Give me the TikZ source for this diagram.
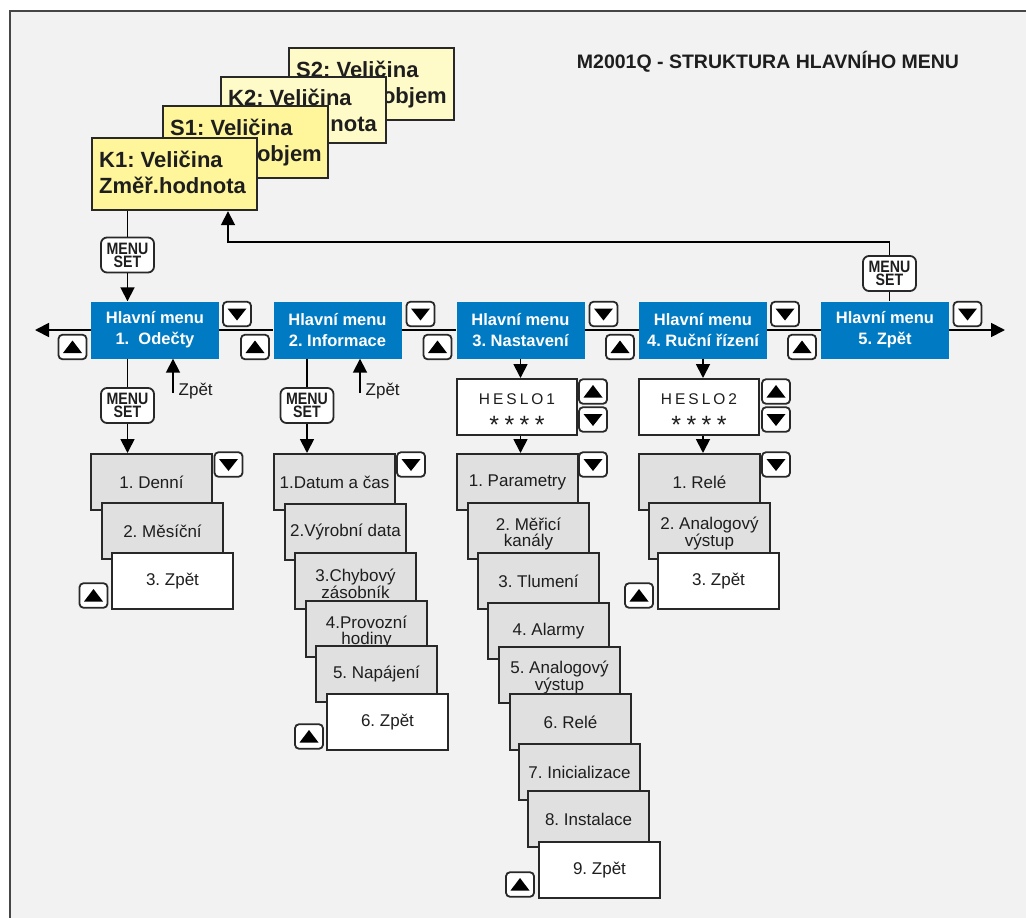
\documentclass[tikz,border=0pt]{standalone}
\usepackage{fontspec}
\setmainfont{Liberation Sans}
\newfontfamily\condfont[FakeStretch=0.86]{Liberation Sans}
\usetikzlibrary{arrows.meta}
\definecolor{bg}{RGB}{242,242,242}
\definecolor{frm}{RGB}{70,70,70}
\definecolor{blu}{RGB}{0,122,194}
\definecolor{subg}{RGB}{224,224,224}
\definecolor{yel}{RGB}{255,245,155}
\definecolor{yelb}{RGB}{255,251,200}
\definecolor{edge}{RGB}{40,40,40}
\definecolor{ink}{RGB}{30,30,30}
\frenchspacing
\newcommand\dnbtn[2]{\node[btn] (#1) at (#2) {};
  \fill[black] ([xshift=-9.5pt,yshift=5.5pt]#1.center) -- ([xshift=9.5pt,yshift=5.5pt]#1.center) -- ([yshift=-6.5pt]#1.center) -- cycle;}
\newcommand\upbtn[2]{\node[btn] (#1) at (#2) {};
  \fill[black] ([xshift=-9.5pt,yshift=-6pt]#1.center) -- ([xshift=9.5pt,yshift=-6pt]#1.center) -- ([yshift=6.5pt]#1.center) -- cycle;}
\newcommand\tp{\rule{0pt}{18pt}}
\begin{document}
\begin{tikzpicture}[x=1pt,y=-1pt,
 conn/.style={line width=1.8pt, draw=black},
 arr/.style={conn, -{Triangle[length=14pt,width=14pt]}},
 card/.style={draw=edge, line width=2.2pt, anchor=north west, minimum width=165pt, minimum height=72pt, inner sep=0pt},
 cardtext/.style={inner sep=0pt, text=ink, font=\bfseries\fontsize{22}{26}\selectfont},
 mainbox/.style={fill=blu, text=white, minimum width=128pt, minimum height=57pt, inner sep=0pt, align=center, font=\bfseries\fontsize{16.5}{21}\selectfont},
 sub/.style={draw=edge, line width=2pt, fill=subg, anchor=north west, minimum width=121pt, minimum height=56pt, inner sep=1pt, align=center, text=ink, font=\fontsize{17}{16}\selectfont},
 subw/.style={sub, fill=white},
 hes/.style={draw=edge, line width=2pt, fill=white, anchor=north west, minimum width=120pt, minimum height=56pt, inner sep=0pt},
 btn/.style={draw=edge, fill=white, line width=1.8pt, rounded corners=4pt, minimum width=28pt, minimum height=24.5pt, inner sep=0pt},
 ms/.style={draw=edge, fill=white, line width=1.8pt, rounded corners=6pt, minimum width=53pt, minimum height=35pt, inner sep=0pt, align=center, text=ink, font=\condfont\bfseries\fontsize{16.5}{13}\selectfont},
 lbl/.style={inner sep=0pt, text=ink, font=\fontsize{17}{20}\selectfont},
]
\useasboundingbox (0,0) rectangle (1026,918);
\fill[white] (0,0) rectangle (1026,918);
\begin{scope}
\clip (0,0) rectangle (1026,918);
\draw[draw=frm, line width=2.5pt, fill=bg] (10,11) rectangle (1040,930);
\end{scope}

% title
\node[inner sep=0pt, text=ink, font=\bfseries\fontsize{19.5}{20}\selectfont] (title) at (768,62) {M2001Q - STRUKTURA HLAVNÍHO MENU};

% stacked cards
\node[card, fill=yelb] (s2) at (288,47) {};
\node[cardtext, anchor=base west] (s2t) at (296,77) {S2: Veličina};
\node[cardtext, anchor=base east] (s2u) at (447,103) {objem};
\node[card, fill=yelb, minimum height=66pt] (k2) at (220,76) {};
\node[cardtext, anchor=base west] (k2t) at (228,105) {K2: Veličina};
\node[cardtext, anchor=base east] (k2u) at (377,131) {hodnota};
\node[card, fill=yel] (s1) at (162,105) {};
\node[cardtext, anchor=base west] (s1t) at (170,135) {S1: Veličina};
\node[cardtext, anchor=base east] (s1u) at (322,161) {objem};
\node[card, fill=yel] (k1) at (91,137) {};
\node[cardtext, anchor=north west, align=left] (k1t) at (99,151) {K1: Veličina\\Změř.hodnota};

% main menu boxes
\node[mainbox] (b1) at (155,330) {Hlavní menu\\1.\ \ Odečty};
\node[mainbox] (b2) at (337.5,330) {Hlavní menu\\2. Informace};
\node[mainbox] (b3) at (520.5,330) {Hlavní menu\\3. Nastavení};
\node[mainbox] (b4) at (703,330) {Hlavní menu\\4. Ruční řízení};
\node[mainbox] (b5) at (885,330) {Hlavní menu\\5. Zpět};

\coordinate (lend) at (35,330);
\coordinate (rend) at (1005,330);
\draw[arr] (b1.west) -- (lend);
\draw[conn] (b1.east) -- (b2.west);
\draw[conn] (b2.east) -- (b3.west);
\draw[conn] (b3.east) -- (b4.west);
\draw[conn] (b4.east) -- (b5.west);
\draw[arr] (b5.east) -- (rend);

\dnbtn{d1}{237,314}   \upbtn{u1}{72.5,347}
\dnbtn{d2}{420.5,314} \upbtn{u2}{255,347}
\dnbtn{d3}{603.5,314} \upbtn{u3}{437.5,347}
\dnbtn{d4}{785,314}   \upbtn{u4}{620,347}
\dnbtn{d5}{967.5,314} \upbtn{u5}{802,347}

% MENU SET top
\node[ms] (ms0) at (127.5,255) {MENU\\SET};
\draw[conn] (k1.south -| ms0) -- (ms0.north);
\draw[arr] (ms0.south) -- (ms0.south |- b1.north);

% return from 5. Zpet
\node[ms] (ms5) at (889.5,273.5) {MENU\\SET};
\coordinate (ret) at (228,242);
\draw[conn] (ms5.south) -- (ms5.south |- b5.north);
\draw[arr] (ms5.north) |- (ret) -- (ret |- k1.south);

% Zpet arrows
\coordinate (zb1) at (173,393);
\draw[arr] (zb1) -- (zb1 |- b1.south);
\node[lbl, anchor=base west] (zl1) at (178.5,395) {Zpět};
\coordinate (zb2) at (360,393);
\draw[arr] (zb2) -- (zb2 |- b2.south);
\node[lbl, anchor=base west] (zl2) at (365.5,395) {Zpět};

% column 1
\node[ms] (ms1) at (127.5,405.5) {MENU\\SET};
\draw[conn] (ms1.north |- b1.south) -- (ms1.north);
\node[sub] (c1a) at (90,453) {1. Denní};
\node[sub] (c1b) at (101,502) {2. Měsíční};
\node[subw] (c1c) at (111,552) {3. Zpět};
\draw[arr] (ms1.south) -- (ms1.south |- c1a.north);
\dnbtn{c1d}{228.5,464.5}
\upbtn{c1u}{93.5,595.5}

% column 2
\node[ms] (ms2) at (307,405.5) {MENU\\SET};
\draw[conn] (ms2.north |- b2.south) -- (ms2.north);
\node[sub] (c2a) at (273,453) {1.Datum a čas};
\node[sub] (c2b) at (284,503) {2.Výrobní data};
\node[sub] (c2c) at (294,552) {\tp3.Chybový\\zásobník};
\node[sub] (c2d) at (305,600) {\tp4.Provozní\\hodiny};
\node[sub] (c2e) at (315,645) {5. Napájení};
\node[subw] (c2f) at (326,693) {6. Zpět};
\draw[arr] (ms2.south) -- (ms2.south |- c2a.north);
\dnbtn{c2dn}{411,464.5}
\upbtn{c2up}{309,736.5}

% column 3
\node[hes] (h1) at (456,378) {};
\node[lbl, anchor=base, font=\fontsize{15.5}{18}\selectfont] (h1a) at ([yshift=3pt]h1.center) {H\kern3pt E\kern3pt S\kern3pt L\kern3pt O\kern3pt 1};
\node[lbl, anchor=base, font=\fontsize{25}{25}\selectfont] (h1b) at ([yshift=-26pt]h1.center) {*\kern5.5pt *\kern5.5pt *\kern5.5pt *};
\upbtn{h1u}{593,391.5}
\dnbtn{h1d}{593,419.5}
\draw[arr] (b3.south) -- (b3.south |- h1.north);
\node[sub] (c3a) at (456,453) {1. Parametry};
\node[sub] (c3b) at (467,502) {\tp2. Měřicí\\kanály};
\node[sub] (c3c) at (477,552) {3. Tlumení};
\node[sub] (c3d) at (487,602) {4. Alarmy};
\node[sub] (c3e) at (498,646) {\tp5. Analogový\\výstup};
\node[sub] (c3f) at (509,693) {6. Relé};
\node[sub] (c3g) at (518,743) {7. Inicializace};
\node[sub] (c3h) at (527,790) {8. Instalace};
\node[subw] (c3i) at (538,841) {9. Zpět};
\draw[arr] (h1.south -| b3.south) -- (c3a.north -| b3.south);
\dnbtn{c3dn}{593,464.5}
\upbtn{c3up}{520,884.5}

% column 4
\node[hes] (h2) at (638,378) {};
\node[lbl, anchor=base, font=\fontsize{15.5}{18}\selectfont] (h2a) at ([yshift=3pt]h2.center) {H\kern3pt E\kern3pt S\kern3pt L\kern3pt O\kern3pt 2};
\node[lbl, anchor=base, font=\fontsize{25}{25}\selectfont] (h2b) at ([yshift=-26pt]h2.center) {*\kern5.5pt *\kern5.5pt *\kern5.5pt *};
\upbtn{h2u}{776,391.5}
\dnbtn{h2d}{776,419.5}
\draw[arr] (b4.south) -- (b4.south |- h2.north);
\node[sub] (c4a) at (638,453) {1. Relé};
\node[sub] (c4b) at (648,502) {\tp2. Analogový\\výstup};
\node[subw] (c4c) at (657,552) {3. Zpět};
\draw[arr] (h2.south -| b4.south) -- (c4a.north -| b4.south);
\dnbtn{c4dn}{776,464.5}
\upbtn{c4up}{639,595.5}
\end{tikzpicture}
\end{document}
